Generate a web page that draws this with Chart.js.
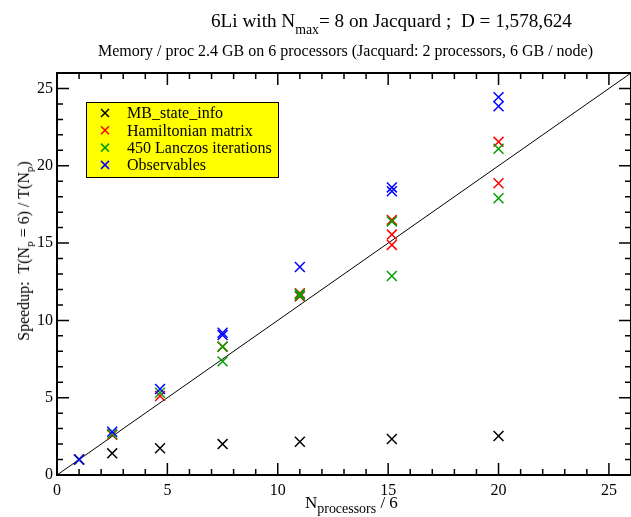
<!DOCTYPE html>
<html>
<head>
<meta charset="utf-8">
<script src="https://cdn.jsdelivr.net/npm/chart.js@4.4.0/dist/chart.umd.min.js"></script>
<style>
  body { margin: 0; background: #fff; }
  #wrap { position: relative; width: 631px; height: 517px; font-family: "Liberation Serif", "Times New Roman", serif; color: #000; }
  canvas { position: absolute; left: 0; top: 0; }
  .lbl { position: absolute; white-space: nowrap; line-height: 1; }
  .lbl sub { font-size: 70%; vertical-align: baseline; position: relative; top: 0.4em; }
  #title { left: 211px; top: 11px; font-size: 19.2px; }
  #title sub { font-size: 72%; top: 0.5em; }
  #subtitle { left: 98px; top: 43px; font-size: 16px; }
  #xtitle { left: 305px; top: 494px; font-size: 17px; }
  #xtitle sub { font-size: 82%; top: 0.35em; }
  #ytitle { left: 24px; top: 251px; font-size: 16px; transform: translate(-50%, -50%) rotate(-90deg); }
</style>
</head>
<body>
<div id="wrap">
  <canvas id="speedup" width="631" height="517"></canvas>
  <div class="lbl" id="title">6Li with N<sub>max</sub>= 8 on Jacquard ;&nbsp; D = 1,578,624</div>
  <div class="lbl" id="subtitle">Memory / proc 2.4 GB on 6 processors (Jacquard: 2 processors, 6 GB / node)</div>
  <div class="lbl" id="xtitle">N<sub>processors</sub> / 6</div>
  <div class="lbl" id="ytitle">Speedup:&nbsp; T(N<sub>p</sub> = 6) / T(N<sub>p</sub>)</div>
</div>
<script>
// processors / 6 for each run (6, 15, 28, 45, 66, 91, 120 processors)
const procRatio = [1, 2.5, 4.667, 7.5, 11, 15.167, 20];

// speedup per step; several runs per processor count where measured
const mbStateInfo = [[1], [1.4], [1.73], [2.0], [2.15], [2.33], [2.52]];
const hamiltonianMatrix = [[1], [2.6], [5.11], [8.3], [11.75, 11.55], [16.5, 15.55, 14.88], [21.55, 18.87]];
const lanczosIterations = [[1], [2.65], [5.32], [8.3, 7.35], [11.7, 11.6], [16.4, 12.87], [21.1, 17.9]];
const observables = [[1], [2.8], [5.56], [9.05, 9.2], [13.45], [18.6, 18.35], [24.44, 23.85]];

const seriesLabels = ['MB_state_info', 'Hamiltonian matrix', '450 Lanczos iterations', 'Observables'];
const seriesColors = ['#000000', '#ff0000', '#00a000', '#0000ff'];

// ideal speedup line and axis ticks
const idealLine = [0, 26];
const majorTicks = [0, 5, 10, 15, 20, 25];
const axisMax = 26;

function toPoints(runs) {
    return runs.flatMap((ys, i) => ys.map(y => ({ x: procRatio[i], y: y })));
}

const seriesData = [mbStateInfo, hamiltonianMatrix, lanczosIterations, observables];

const scatterSets = seriesData.map((runs, i) => ({
    type: 'scatter',
    label: seriesLabels[i],
    data: toPoints(runs),
    pointStyle: 'crossRot',
    pointRadius: 7,
    pointBorderWidth: 1.5,
    borderColor: seriesColors[i],
    backgroundColor: seriesColors[i],
    order: 4 - i
}));

const lineSet = {
    type: 'line',
    label: 'ideal',
    data: idealLine.map(v => ({ x: v, y: v })),
    borderColor: '#000',
    borderWidth: 1,
    pointRadius: 0,
    order: 10
};

// frame with inward major/minor ticks on all four sides
const framePlugin = {
    id: 'frame',
    beforeDatasetsDraw(chart) {
        const ctx = chart.ctx;
        const a = chart.chartArea;
        const xs = chart.scales.x, ys = chart.scales.y;
        ctx.save();
        ctx.strokeStyle = '#000';
        ctx.lineWidth = 1.5;
        for (let v = 1; v < axisMax; v++) {
            const len = v % 5 === 0 ? 12 : 6;
            const px = xs.getPixelForValue(v);
            const py = ys.getPixelForValue(v);
            ctx.beginPath();
            ctx.moveTo(px, a.bottom); ctx.lineTo(px, a.bottom - len);
            ctx.moveTo(px, a.top); ctx.lineTo(px, a.top + len);
            ctx.moveTo(a.left, py); ctx.lineTo(a.left + len, py);
            ctx.moveTo(a.right, py); ctx.lineTo(a.right - len, py);
            ctx.stroke();
        }
        ctx.lineWidth = 2;
        ctx.strokeRect(a.left, a.top, a.right - a.left, a.bottom - a.top);
        ctx.restore();
    }
};

// boxed legend inside the plot
const boxLegend = {
    id: 'boxLegend',
    afterDraw(chart) {
        const ctx = chart.ctx;
        ctx.save();
        ctx.fillStyle = '#ffff00';
        ctx.fillRect(86, 102, 192, 75);
        ctx.strokeStyle = '#000';
        ctx.lineWidth = 1;
        ctx.strokeRect(86.5, 102.5, 192, 75);
        ctx.font = '16px "Liberation Serif"';
        ctx.textBaseline = 'middle';
        seriesLabels.forEach((label, i) => {
            const y = 113 + i * 17.3;
            const x = 105;
            ctx.strokeStyle = seriesColors[i];
            ctx.lineWidth = 1.5;
            ctx.beginPath();
            ctx.moveTo(x - 4, y - 4); ctx.lineTo(x + 4, y + 4);
            ctx.moveTo(x - 4, y + 4); ctx.lineTo(x + 4, y - 4);
            ctx.stroke();
            ctx.fillStyle = '#000';
            ctx.fillText(label, 127, y + 1);
        });
        ctx.restore();
    }
};

const tickFont = { family: 'Liberation Serif', size: 16 };

new Chart(document.getElementById('speedup'), {
    data: { datasets: [...scatterSets, lineSet] },
    options: {
        responsive: false,
        animation: false,
        layout: { autoPadding: false, padding: { top: 73, left: 0, right: 0, bottom: 0 } },
        plugins: { legend: { display: false }, tooltip: { enabled: false } },
        scales: {
            x: {
                type: 'linear',
                min: 0,
                max: axisMax,
                grid: { display: false, drawTicks: false },
                border: { display: false },
                ticks: { font: tickFont, color: '#000', padding: 6 },
                afterBuildTicks: s => { s.ticks = majorTicks.map(v => ({ value: v })); },
                afterFit: s => { s.height = 42; s.paddingLeft = 0; s.paddingRight = 0; }
            },
            y: {
                type: 'linear',
                min: 0,
                max: axisMax,
                grid: { display: false, drawTicks: false },
                border: { display: false },
                ticks: { font: tickFont, color: '#000', padding: 4 },
                afterBuildTicks: s => { s.ticks = majorTicks.map(v => ({ value: v })); },
                afterFit: s => { s.width = 57; s.paddingTop = 0; s.paddingBottom = 0; }
            }
        }
    },
    plugins: [framePlugin, boxLegend]
});
</script>
</body>
</html>
